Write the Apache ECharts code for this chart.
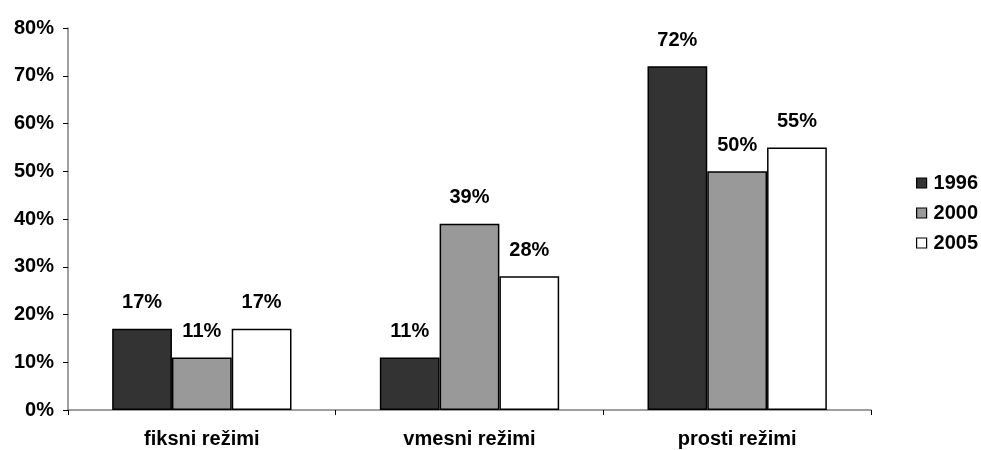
<!DOCTYPE html>
<html>
<head>
<meta charset="utf-8">
<script src="https://cdn.jsdelivr.net/npm/echarts@6/dist/echarts.min.js"></script>
<style>
  html, body { margin: 0; padding: 0; background: #fff; }
  #chart { width: 981px; height: 450px; }
</style>
</head>
<body>
<div id="chart"></div>
<script>
// Exchange-rate regime shares by year
const categories = ['fiksni režimi', 'vmesni režimi', 'prosti režimi'];
const years = ['1996', '2000', '2005'];
const values1996 = [17, 11, 72];
const values2000 = [11, 39, 50];
const values2005 = [17, 28, 55];
const yTicks = [0, 10, 20, 30, 40, 50, 60, 70, 80];

const FONT = '"Liberation Sans", Arial, sans-serif';
const fills = ['#333333', '#999999', '#ffffff'];
const seriesValues = [values1996, values2000, values2005];

const chart = echarts.init(document.getElementById('chart'), null, { renderer: 'canvas' });

chart.setOption({
  animation: false,
  backgroundColor: '#ffffff',
  textStyle: { fontFamily: FONT },
  grid: { left: 68, right: 110, top: 28, bottom: 40, containLabel: false },
  legend: {
    orient: 'vertical',
    left: 911,
    top: 168,
    itemWidth: 10,
    itemHeight: 10,
    itemGap: 10,
    icon: 'rect',
    data: years,
    textStyle: { fontFamily: FONT, fontSize: 20, fontWeight: 'bold', color: '#000', padding: [0, 0, 0, 2] },
    itemStyle: { borderColor: '#000', borderWidth: 1.2 }
  },
  xAxis: {
    type: 'category',
    data: categories,
    axisLine: { show: true, lineStyle: { color: '#808080', width: 1.5 } },
    axisTick: { show: true, length: 5, lineStyle: { color: '#000', width: 1 } },
    axisLabel: {
      fontFamily: FONT, fontSize: 20, fontWeight: 'bold', color: '#000', margin: 19
    },
    splitLine: { show: false }
  },
  yAxis: {
    type: 'value',
    min: yTicks[0],
    max: yTicks[yTicks.length - 1],
    interval: 10,
    axisLine: { show: true, lineStyle: { color: '#808080', width: 1.5 } },
    axisTick: { show: true, length: 5, inside: false, lineStyle: { color: '#000', width: 1 } },
    axisLabel: {
      fontFamily: FONT, fontSize: 20, fontWeight: 'bold', color: '#000', margin: 14,
      formatter: v => v + '%'
    },
    splitLine: { show: false }
  },
  series: years.map((y, i) => ({
    name: y,
    type: 'bar',
    data: seriesValues[i],
    barGap: '0%',
    barCategoryGap: '33%',
    itemStyle: { color: fills[i], borderColor: '#000', borderWidth: 1.5 },
    label: {
      show: true,
      position: 'top',
      distance: 16,
      fontFamily: FONT,
      fontSize: 20,
      fontWeight: 'bold',
      color: '#000',
      formatter: p => p.value + '%'
    }
  }))
});
</script>
</body>
</html>
